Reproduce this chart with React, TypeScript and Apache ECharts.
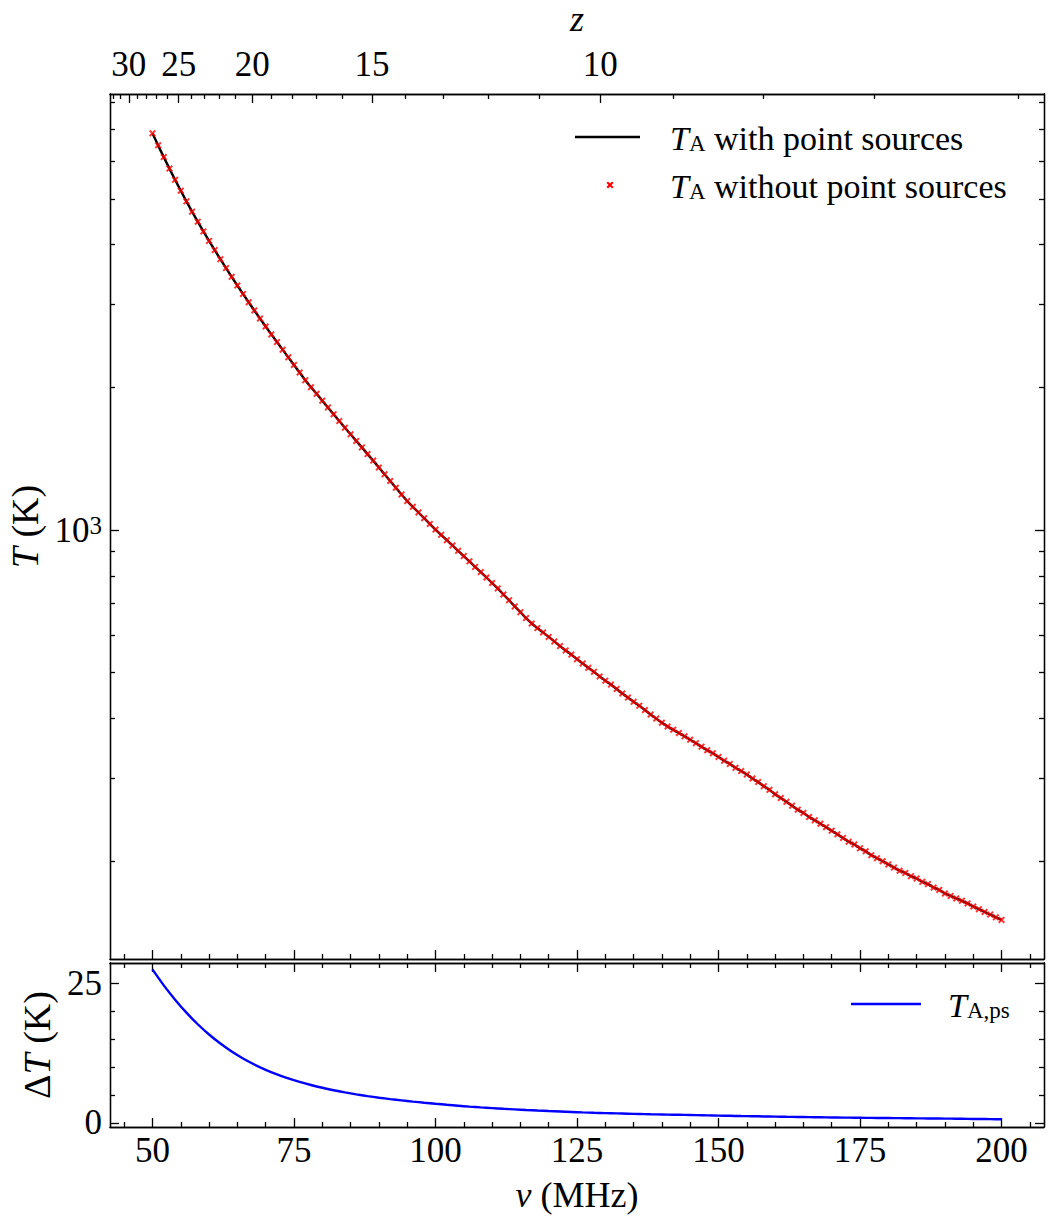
import React, { useEffect, useRef } from 'react';
import * as echarts from 'echarts';

// ---- Data ----
// Frequency grid of the antenna-temperature samples (MHz), one sample per MHz from 50 to 200
const nuStart = 50;
const nuStep = 1;
// T_A (K) (with / without point sources coincide at this scale)
const tA = [
  6871, 6481, 6121, 5789, 5483, 5200, 4938, 4697, 4473, 4266,
  4074, 3896, 3728, 3570, 3421, 3281, 3149, 3024, 2906, 2794,
  2688, 2587, 2492, 2402, 2314, 2230, 2149, 2071, 2002, 1938,
  1875, 1814, 1755, 1698, 1644, 1592, 1542, 1494, 1446, 1401,
  1355, 1311, 1269, 1228, 1188, 1151, 1119, 1089, 1059, 1030,
  1002, 977, 952, 928, 904, 881, 859, 836, 815, 794,
  773, 753, 731, 711, 690, 671, 652, 635, 621, 608,
  595, 582, 569, 557, 546, 534, 523, 512, 502, 491,
  481, 472, 462, 452, 443, 434, 426, 417, 408, 400,
  392, 385, 379, 373, 367, 361, 355, 349, 343, 338,
  332, 326, 321, 315, 310, 305, 299, 294, 288, 283,
  277, 272, 267, 262, 257, 253, 248, 244, 240, 236,
  232, 228, 224, 220, 217, 213, 210, 206, 203, 200,
  197, 194, 191, 189, 186, 184, 181, 179, 176, 174,
  171, 169, 167, 165, 163, 160.5, 158.5, 156.4, 154.4, 152.3,
  150.4
];
// Delta T (K) from point sources, sampled every 2 MHz from 50 to 200
const dNuStart = 50;
const dNuStep = 2;
const dT = [
  27.45, 24.6, 22.04, 19.72, 17.65, 15.82, 14.2, 12.78, 11.54, 10.46,
  9.51, 8.69, 7.98, 7.35, 6.79, 6.29, 5.85, 5.46, 5.11, 4.8,
  4.52, 4.27, 4.04, 3.82, 3.62, 3.43, 3.25, 3.08, 2.92, 2.78,
  2.66, 2.54, 2.43, 2.32, 2.22, 2.13, 2.05, 1.97, 1.89, 1.82,
  1.76, 1.71, 1.66, 1.61, 1.56, 1.52, 1.48, 1.44, 1.40, 1.36,
  1.32, 1.28, 1.24, 1.21, 1.17, 1.14, 1.10, 1.07, 1.04, 1.01,
  0.98, 0.96, 0.94, 0.92, 0.90, 0.88, 0.86, 0.84, 0.82, 0.80,
  0.78, 0.76, 0.73, 0.71, 0.69, 0.66
];

// Tick values
const nuMajor = [50, 75, 100, 125, 150, 175, 200];
const nuMinor = [45, 55, 60, 65, 70, 80, 85, 90, 95, 105, 110, 115, 120, 130, 135, 140, 145, 155, 160, 165, 170, 180, 185, 190, 195, 205];
const zMajor = [30, 25, 20, 15, 10];
const zMinor = [32, 31, 29, 28, 27, 26, 24, 23, 22, 21, 19, 18, 17, 16, 14, 13, 12, 11, 9, 8, 7, 6];
const tMajor = [1000];
const tMinor = [200, 300, 400, 500, 600, 700, 800, 900, 2000, 3000, 4000, 5000, 6000, 7000, 8000];
const dMajor = [0, 25];
const dMinor = [5, 10, 15, 20];

const NU21 = 1420.405751;
const zToNu = (z: number) => NU21 / (1 + z);

const X_MIN = 42.5, X_MAX = 207.5;
const T_MIN = 124.4, T_MAX = 8318;
const D_MIN = -0.72, D_MAX = 28.6;

const FONT = 'Liberation Serif';
const AX = { color: '#000', width: 1.3 };

export default function App() {
  const ref = useRef<HTMLDivElement>(null);
  useEffect(() => {
    if (!ref.current) return;
    const chart = echarts.init(ref.current, undefined, { renderer: 'svg' });
    const crossPath = 'path://M0,2 L2,0 L5,3 L8,0 L10,2 L7,5 L10,8 L8,10 L5,7 L2,10 L0,8 L3,5 Z';
    const lbl = { fontFamily: FONT, fontSize: 35, color: '#000' };
    const mkAxis = (o: any) => {
      const { ticks, major, labels, labelOpt, ...rest } = o;
      return {
        splitLine: { show: false },
        axisLine: { show: true, onZero: false, lineStyle: AX },
        axisTick: { show: true, inside: true, length: major ? 9 : 5, lineStyle: AX, customValues: ticks },
        axisLabel: labels ? { show: true, customValues: ticks, ...lbl, ...labelOpt } : { show: false },
        ...rest,
      };
    };
    const xTop = (grid: number) => ({ type: 'value', gridIndex: grid, min: X_MIN, max: X_MAX });
    const nuData = tA.map((v, i) => [nuStart + i * nuStep, v]);
    const dData = dT.map((v, i) => [dNuStart + i * dNuStep, v]);
    const legendRich = {
      it: { fontFamily: FONT, fontSize: 34, fontStyle: 'italic' },
      sub: { fontFamily: FONT, fontSize: 23, verticalAlign: 'bottom', lineHeight: 22 },
    };
    const option: any = {
      animation: false,
      backgroundColor: '#fff',
      grid: [
        { left: 110, top: 94, width: 934, height: 865, containLabel: false, outerBoundsMode: 'none' },
        { left: 110, top: 963, width: 934, height: 164, containLabel: false, outerBoundsMode: 'none' },
      ],
      xAxis: [
        mkAxis({ ...xTop(0), position: 'bottom', ticks: nuMajor, major: true }),
        mkAxis({ ...xTop(0), position: 'bottom', ticks: nuMinor }),
        mkAxis({
          ...xTop(0), position: 'top', ticks: zMajor.map(zToNu), major: true, labels: true,
          labelOpt: { margin: 12, formatter: (v: number) => String(Math.round(NU21 / v - 1)) },
          name: 'z', nameLocation: 'middle', nameGap: 57,
          nameTextStyle: { fontFamily: FONT, fontSize: 36, fontStyle: 'italic', color: '#000' },
        }),
        mkAxis({ ...xTop(0), position: 'top', ticks: zMinor.map(zToNu) }),
        mkAxis({
          ...xTop(1), position: 'bottom', ticks: nuMajor, major: true, labels: true,
          labelOpt: { margin: 6 },
          name: '{it|ν} (MHz)', nameLocation: 'middle', nameGap: 50,
          nameTextStyle: { fontFamily: FONT, fontSize: 36, color: '#000', rich: { it: { fontFamily: FONT, fontSize: 36, fontStyle: 'italic', color: '#000' } } },
        }),
        mkAxis({ ...xTop(1), position: 'bottom', ticks: nuMinor }),
        mkAxis({ ...xTop(1), position: 'top', ticks: nuMajor, major: true }),
        mkAxis({ ...xTop(1), position: 'top', ticks: nuMinor }),
      ],
      yAxis: [
        mkAxis({
          type: 'log', gridIndex: 0, position: 'left', min: T_MIN, max: T_MAX, ticks: tMajor, major: true, labels: true,
          labelOpt: {
            margin: 8,
            formatter: () => '10{sup|3}',
            rich: { sup: { fontFamily: FONT, fontSize: 25, color: '#000', verticalAlign: 'top' } },
          },
          name: '{it|T} (K)', nameLocation: 'middle', nameGap: 64,
          nameTextStyle: { fontFamily: FONT, fontSize: 38, color: '#000', rich: { it: { fontFamily: FONT, fontSize: 38, fontStyle: 'italic', color: '#000' } } },
        }),
        mkAxis({ type: 'log', gridIndex: 0, position: 'left', min: T_MIN, max: T_MAX, ticks: tMinor }),
        mkAxis({ type: 'log', gridIndex: 0, position: 'right', min: T_MIN, max: T_MAX, ticks: tMajor, major: true }),
        mkAxis({ type: 'log', gridIndex: 0, position: 'right', min: T_MIN, max: T_MAX, ticks: tMinor }),
        mkAxis({
          type: 'value', gridIndex: 1, position: 'left', min: D_MIN, max: D_MAX, ticks: dMajor, major: true, labels: true,
          labelOpt: { margin: 8 },
          name: 'Δ{it|T} (K)', nameLocation: 'middle', nameGap: 52,
          nameTextStyle: { fontFamily: FONT, fontSize: 38, color: '#000', rich: { it: { fontFamily: FONT, fontSize: 38, fontStyle: 'italic', color: '#000' } } },
        }),
        mkAxis({ type: 'value', gridIndex: 1, position: 'left', min: D_MIN, max: D_MAX, ticks: dMinor }),
        mkAxis({ type: 'value', gridIndex: 1, position: 'right', min: D_MIN, max: D_MAX, ticks: dMajor, major: true }),
        mkAxis({ type: 'value', gridIndex: 1, position: 'right', min: D_MIN, max: D_MAX, ticks: dMinor }),
      ],
      series: [
        {
          name: 'TA with point sources', type: 'line', xAxisIndex: 0, yAxisIndex: 0, data: nuData,
          symbol: 'none', lineStyle: { color: '#000', width: 2.4 }, z: 2, silent: true,
        },
        {
          name: 'TA without point sources', type: 'scatter', xAxisIndex: 0, yAxisIndex: 0, data: nuData,
          symbol: crossPath, symbolSize: 7, itemStyle: { color: '#ff0000' }, z: 3, silent: true,
        },
        {
          name: 'TA,ps', type: 'line', xAxisIndex: 4, yAxisIndex: 4, data: dData, smooth: 0.3,
          symbol: 'none', lineStyle: { color: '#0000ff', width: 2.4 }, z: 2, silent: true,
        },
      ],
      graphic: [
        { type: 'line', shape: { x1: 575, y1: 137, x2: 640, y2: 137 }, style: { stroke: '#000', lineWidth: 2.4 } },
        {
          type: 'text', x: 670, y: 138,
          style: { text: '{it|T}{sub|A} with point sources', fontFamily: FONT, fontSize: 34, fill: '#000', verticalAlign: 'middle', rich: legendRich },
        },
        { type: 'polygon', shape: { points: [[606.5, 183], [608, 181.5], [610, 183.5], [612, 181.5], [613.5, 183], [611.5, 185], [613.5, 187], [612, 188.5], [610, 186.5], [608, 188.5], [606.5, 187], [608.5, 185]] }, style: { fill: '#ff0000' } },
        {
          type: 'text', x: 670, y: 186,
          style: { text: '{it|T}{sub|A} without point sources', fontFamily: FONT, fontSize: 34, fill: '#000', verticalAlign: 'middle', rich: legendRich },
        },
        { type: 'line', shape: { x1: 851, y1: 1004, x2: 921, y2: 1004 }, style: { stroke: '#0000ff', lineWidth: 2.4 } },
        {
          type: 'text', x: 948, y: 1005,
          style: { text: '{it|T}{sub|A,ps}', fontFamily: FONT, fontSize: 34, fill: '#000', verticalAlign: 'middle', rich: legendRich },
        },
      ],
    };
    chart.setOption(option);
    return () => chart.dispose();
  }, []);
  return <div ref={ref} style={{ width: 1050, height: 1217, position: 'absolute', left: 0, top: 0, background: '#fff' }} />;
}
